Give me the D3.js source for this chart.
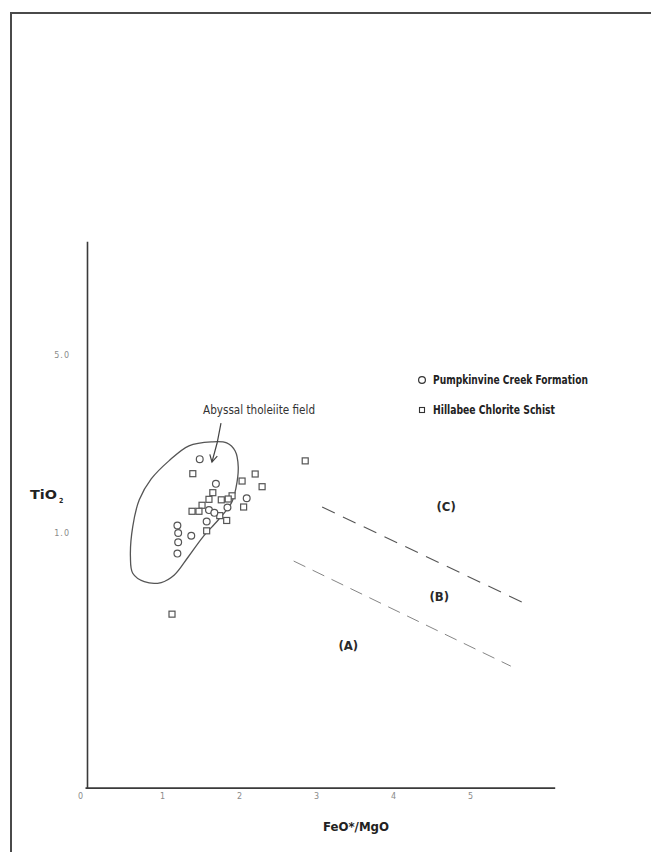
<!DOCTYPE html>
<html>
<head>
<meta charset="utf-8">
<script src="https://cdn.jsdelivr.net/npm/d3@7/dist/d3.min.js"></script>
<style>
  html, body { margin: 0; padding: 0; background: #ffffff; }
  svg { display: block; }
  .cond { font-family: "Liberation Sans Narrow", "DejaVu Sans Condensed", "Liberation Sans", sans-serif; }
</style>
</head>
<body>
<svg id="chart" width="651" height="852"></svg>
<script>
// TiO2 (wt%) vs FeO*/MgO, log TiO2 axis
const xTickValues = [0, 1, 2, 3, 4, 5];
const xTickLabels = ["0", "1", "2", "3", "4", "5"];
const yTickValues = [0.1, 1, 5];
const yTickLabels = ["0", "1.0", "5.0"];

// Pumpkinvine Creek Formation samples [FeO*/MgO, TiO2]
const pumpkinvine = [
  [1.49, 1.95], [1.70, 1.56], [2.10, 1.37], [1.85, 1.26], [1.61, 1.23],
  [1.68, 1.20], [1.58, 1.11], [1.20, 1.07], [1.21, 1.00], [1.21, 0.92],
  [1.20, 0.83], [1.38, 0.975]
];

// Hillabee Chlorite Schist samples [FeO*/MgO, TiO2]
const hillabee = [
  [1.40, 1.71], [2.04, 1.60], [2.21, 1.705], [2.30, 1.52], [1.66, 1.44],
  [1.91, 1.40], [1.86, 1.36], [1.77, 1.35], [1.61, 1.356], [1.52, 1.285],
  [2.06, 1.265], [1.39, 1.217], [1.48, 1.217], [1.75, 1.17], [1.84, 1.12],
  [1.58, 1.02], [2.86, 1.92], [1.13, 0.48]
];

// Abyssal tholeiite field outline [FeO*/MgO, TiO2]
const abyssalField = [
  [1.64, 2.28], [1.84, 2.26], [1.95, 2.10], [1.99, 1.82], [1.96, 1.50],
  [1.90, 1.31], [1.73, 1.125], [1.53, 0.964], [1.34, 0.805], [1.16, 0.684],
  [0.99, 0.639], [0.77, 0.644], [0.62, 0.695], [0.59, 0.807], [0.62, 1.06],
  [0.705, 1.35], [0.86, 1.63], [1.09, 1.92], [1.35, 2.20]
];

// Boundary lines between fields A/B and B/C
const boundaryBC = [[3.08, 1.265], [5.70, 0.531]];
const boundaryAB = [[2.71, 0.776], [5.53, 0.300]];

// Field letters
const fieldLabels = [
  { text: "(C)", at: [4.69, 1.277] },
  { text: "(B)", at: [4.60, 0.566] },
  { text: "(A)", at: [3.42, 0.363] }
];

const fieldNote = { text: "Abyssal tholeiite field", at: [2.26, 3.04], arrowFrom: [1.766, 2.70], arrowTo: [1.649, 1.90] };

const legendItems = [
  { text: "Pumpkinvine Creek Formation", symbol: "circle", width: 155 },
  { text: "Hillabee Chlorite Schist", symbol: "square", width: 122 }
];

const svg = d3.select("#chart");
const ink = "#3a3a3a";

const x = d3.scaleLinear().domain([0, 6.1]).range([85, 554.7]);
const y = d3.scaleLog().domain([0.1, 14]).range([787.6, 241.2]);

// page frame
svg.append("line").attr("x1", 10).attr("y1", 13).attr("x2", 651).attr("y2", 13)
  .attr("stroke", "#4a4a4a").attr("stroke-width", 2);
svg.append("line").attr("x1", 11).attr("y1", 12).attr("x2", 11).attr("y2", 852)
  .attr("stroke", "#4a4a4a").attr("stroke-width", 2);

// axes
const xAxis = d3.axisBottom(x).tickValues(xTickValues)
  .tickFormat((d, i) => xTickLabels[i]).tickSize(0).tickPadding(6);
const gx = svg.append("g").attr("transform", `translate(0,${y(0.1)})`).call(xAxis);
gx.select(".domain").attr("stroke", ink).attr("stroke-width", 1.6);
gx.selectAll(".tick text").attr("fill", "#8a8a8a").attr("font-size", 8)
  .attr("font-family", "DejaVu Sans, sans-serif");
gx.selectAll(".tick").filter(d => d === 0).select("text").attr("dx", -5);

const yAxis = d3.axisLeft(y).tickValues(yTickValues.slice(1))
  .tickFormat((d, i) => yTickLabels[i + 1]).tickSize(0).tickPadding(17);
const gy = svg.append("g").attr("transform", `translate(${x(0) + 2},0)`).call(yAxis);
gy.select(".domain").attr("stroke", ink).attr("stroke-width", 1.6);
gy.selectAll(".tick text").attr("fill", "#8a8a8a").attr("font-size", 8)
  .attr("font-family", "DejaVu Sans, sans-serif").attr("letter-spacing", 1);

// axis titles
const yTitle = svg.append("text").attr("class", "cond").attr("x", 30).attr("y", 499)
  .attr("font-weight", "bold").attr("font-size", 13).attr("fill", "#222");
yTitle.append("tspan").text("TiO").attr("textLength", 27).attr("lengthAdjust", "spacingAndGlyphs");
yTitle.append("tspan").text("2").attr("font-size", 7).attr("dx", 2).attr("dy", 4);

svg.append("text").attr("class", "cond").attr("x", 323).attr("y", 831)
  .attr("font-weight", "bold").attr("font-size", 13).attr("fill", "#222")
  .attr("textLength", 66).attr("lengthAdjust", "spacingAndGlyphs").text("FeO*/MgO");

// abyssal tholeiite field
const fieldLine = d3.line().x(d => x(d[0])).y(d => y(d[1])).curve(d3.curveCatmullRomClosed.alpha(0.5));
svg.append("path").attr("d", fieldLine(abyssalField))
  .attr("fill", "none").attr("stroke", "#555").attr("stroke-width", 1.3);

// boundary lines
const straight = d3.line().x(d => x(d[0])).y(d => y(d[1]));
svg.append("path").attr("d", straight(boundaryBC)).attr("fill", "none")
  .attr("stroke", "#555").attr("stroke-width", 1.1).attr("stroke-dasharray", "14,9");
svg.append("path").attr("d", straight(boundaryAB)).attr("fill", "none")
  .attr("stroke", "#777").attr("stroke-width", 0.9).attr("stroke-dasharray", "13,8");

// field letters
svg.selectAll(".fieldLabel").data(fieldLabels).join("text")
  .attr("class", "cond fieldLabel")
  .attr("x", d => x(d.at[0])).attr("y", d => y(d.at[1]) + 5)
  .attr("text-anchor", "middle").attr("font-weight", "bold").attr("font-size", 13)
  .attr("fill", "#2a2a2a").text(d => d.text);

// field annotation and arrow
svg.append("text").attr("class", "cond")
  .attr("x", x(fieldNote.at[0])).attr("y", y(fieldNote.at[1]) + 4)
  .attr("text-anchor", "middle").attr("font-size", 12).attr("fill", "#333")
  .attr("textLength", 112).attr("lengthAdjust", "spacingAndGlyphs").text(fieldNote.text);

const ax0 = x(fieldNote.arrowFrom[0]), ay0 = y(fieldNote.arrowFrom[1]);
const ax1 = x(fieldNote.arrowTo[0]), ay1 = y(fieldNote.arrowTo[1]);
svg.append("path").attr("d", `M${ax0},${ay0} Q${ax0 - 3},${(ay0 + ay1) / 2} ${ax1},${ay1}`)
  .attr("fill", "none").attr("stroke", "#444").attr("stroke-width", 1.2);
const ang = Math.atan2(ay1 - ay0, ax1 - ax0);
const headLen = 8;
svg.append("path")
  .attr("d", `M${ax1 + headLen * Math.cos(ang + Math.PI - 0.5)},${ay1 + headLen * Math.sin(ang + Math.PI - 0.5)} L${ax1},${ay1} L${ax1 + headLen * Math.cos(ang + Math.PI + 0.5)},${ay1 + headLen * Math.sin(ang + Math.PI + 0.5)}`)
  .attr("fill", "none").attr("stroke", "#444").attr("stroke-width", 1.2);

// samples
svg.append("g").selectAll("rect").data(hillabee).join("rect")
  .attr("x", d => x(d[0]) - 3).attr("y", d => y(d[1]) - 3)
  .attr("width", 6).attr("height", 6)
  .attr("fill", "#fff").attr("stroke", "#555").attr("stroke-width", 1.2);

svg.append("g").selectAll("circle").data(pumpkinvine).join("circle")
  .attr("cx", d => x(d[0])).attr("cy", d => y(d[1])).attr("r", 3.4)
  .attr("fill", "#fff").attr("stroke", "#555").attr("stroke-width", 1.2);

// legend
const lg = svg.append("g").attr("transform", "translate(422,380)");
legendItems.forEach((item, i) => {
  const g = lg.append("g").attr("transform", `translate(0,${i * 30})`);
  if (item.symbol === "circle") {
    g.append("circle").attr("r", 3.4).attr("fill", "#fff").attr("stroke", "#333").attr("stroke-width", 1.2);
  } else {
    g.append("rect").attr("x", -2.5).attr("y", -2.5).attr("width", 5).attr("height", 5)
      .attr("fill", "#fff").attr("stroke", "#333").attr("stroke-width", 1.1);
  }
  g.append("text").attr("class", "cond").attr("x", 11).attr("y", 4)
    .attr("font-weight", "bold").attr("font-size", 12).attr("fill", "#222")
    .attr("textLength", item.width).attr("lengthAdjust", "spacingAndGlyphs").text(item.text);
});
</script>
</body>
</html>
